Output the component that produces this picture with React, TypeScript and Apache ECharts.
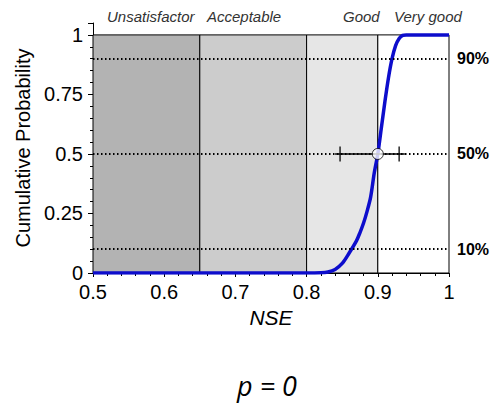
import React, { useEffect, useRef } from "react";
import * as echarts from "echarts";

// CDF of NSE
const cdfX = [0.5, 0.6, 0.7, 0.8, 0.82, 0.83, 0.84, 0.85, 0.86, 0.87, 0.875, 0.88, 0.885, 0.89, 0.895, 0.9, 0.905, 0.91, 0.915, 0.92, 0.925, 0.93, 0.935, 0.94, 1.0];
const cdfY = [0, 0, 0, 0, 0.001, 0.004, 0.015, 0.04, 0.085, 0.135, 0.17, 0.21, 0.26, 0.32, 0.42, 0.5, 0.61, 0.72, 0.82, 0.9, 0.955, 0.985, 0.998, 1, 1];

// performance bands
const bandNames = ["Unsatisfactor", "Acceptable", "Good", "Very good"];
const bandEdges = [0.5, 0.65, 0.8, 0.9, 1.0];
const bandColors = ["#b3b3b3", "#cccccc", "#e6e6e6", "#ffffff"];

// percentile reference lines
const refLevels = [0.9, 0.5, 0.1];
const refLabels = ["90%", "50%", "10%"];

// error bar around the median
const medianPoint = [0.9, 0.5];
const errLineX = [0.84, 0.938];
const errTickX = [0.847, 0.93];

const xTicks = ["0.5", "0.6", "0.7", "0.8", "0.9", "1"];
const yTicks = ["0", "0.25", "0.5", "0.75", "1"];

export default function App() {
  const ref = useRef<HTMLDivElement>(null);
  useEffect(() => {
    if (!ref.current) return;
    const chart = echarts.init(ref.current, null, { renderer: "svg" });
    const font = "'Liberation Sans', Arial, sans-serif";
    const bandAreas = bandNames.map((_, i) => [
      { xAxis: bandEdges[i], yAxis: 0, itemStyle: { color: bandColors[i] } },
      { xAxis: bandEdges[i + 1], yAxis: 1 },
    ]);
    const option: any = {
      animation: false,
      grid: { left: 93, right: 51, top: 23, bottom: 132 },
      xAxis: {
        type: "value",
        min: 0.5,
        max: 1,
        interval: 0.1,
        name: "NSE",
        nameLocation: "middle",
        nameGap: 33,
        nameTextStyle: { fontFamily: font, fontStyle: "italic", fontSize: 21, color: "#000" },
        axisLine: { show: true, onZero: false, lineStyle: { color: "#000", width: 1 } },
        axisTick: { show: true, inside: false, length: 4, lineStyle: { color: "#000" } },
        minorTick: { show: true, splitNumber: 5, length: 3, lineStyle: { color: "#000" } },
        splitLine: { show: false },
        axisLabel: {
          margin: 9,
          fontFamily: font,
          fontSize: 20,
          color: "#000",
          formatter: (v: number) => {
            const s = xTicks.find((t) => Math.abs(parseFloat(t) - v) < 1e-6);
            return s ?? "";
          },
        },
      },
      yAxis: {
        type: "value",
        min: 0,
        max: 1.05,
        interval: 0.25,
        name: "Cumulative Probability",
        nameLocation: "middle",
        nameGap: 58,
        nameTextStyle: { fontFamily: font, fontSize: 20, color: "#000" },
        axisLine: { show: true, onZero: false, lineStyle: { color: "#000", width: 1 } },
        axisTick: { show: true, inside: false, length: 5, lineStyle: { color: "#000" } },
        minorTick: { show: true, splitNumber: 5, length: 3, lineStyle: { color: "#000" } },
        splitLine: { show: false },
        axisLabel: {
          margin: 10,
          fontFamily: font,
          fontSize: 20,
          color: "#000",
          formatter: (v: number) => {
            const s = yTicks.find((t) => Math.abs(parseFloat(t) - v) < 1e-6);
            return s ?? "";
          },
        },
      },
      series: [
        {
          type: "line",
          z: 1,
          data: [[0.5, 0]],
          showSymbol: false,
          symbol: "none",
          lineStyle: { width: 0, opacity: 0 },
          silent: true,
          markArea: {
            silent: true,
            itemStyle: { borderColor: "#000", borderWidth: 1 },
            data: bandAreas,
          },
          markLine: {
            silent: true,
            symbol: ["none", "none"],
            lineStyle: { color: "#000", type: [1.5, 2.5], width: 2 },
            label: {
              show: true,
              position: "end",
              distance: 8,
              fontFamily: font,
              fontWeight: "bold",
              fontSize: 16,
              color: "#000",
            },
            data: refLevels.map((v, i) => ({ yAxis: v, label: { formatter: refLabels[i] } })),
          },
        },
        {
          type: "line",
          z: 3,
          data: cdfX.map((x, i) => [x, cdfY[i]]),
          showSymbol: false,
          symbol: "none",
          smooth: 0.3,
          lineStyle: { color: "#0d0dcc", width: 3.5 },
        },
        {
          type: "line",
          z: 4,
          data: errLineX.map((x) => [x, medianPoint[1]]),
          showSymbol: false,
          symbol: "none",
          lineStyle: { color: "#000", width: 1.5 },
        },
        {
          type: "scatter",
          z: 4,
          data: errTickX.map((x) => [x, medianPoint[1]]),
          symbol: "rect",
          symbolSize: [1.6, 15],
          itemStyle: { color: "#000" },
        },
        {
          type: "scatter",
          z: 5,
          data: [medianPoint],
          symbol: "circle",
          symbolSize: 11,
          itemStyle: { color: "#fff", borderColor: "#000", borderWidth: 1 },
        },
      ],
      graphic: [
        { type: "text", left: 107, top: 9, style: { text: bandNames[0], font: `italic 15px ${font}`, fill: "#333" } },
        { type: "text", left: 207, top: 9, style: { text: bandNames[1], font: `italic 15px ${font}`, fill: "#333" } },
        { type: "text", left: 343, top: 9, style: { text: bandNames[2], font: `italic 15px ${font}`, fill: "#333" } },
        { type: "text", left: 394, top: 9, style: { text: bandNames[3], font: `italic 15px ${font}`, fill: "#333" } },
        {
          type: "text",
          x: 267,
          y: 385,
          style: {
            text: "p = 0",
            font: "italic 27px 'Open Sans', sans-serif",
            fill: "#000",
            textAlign: "center",
            textVerticalAlign: "middle",
          },
        },
      ],
    };
    chart.setOption(option);
    return () => chart.dispose();
  }, []);
  return <div ref={ref} style={{ width: 500, height: 405, position: "absolute", left: 0, top: 0 }} />;
}
